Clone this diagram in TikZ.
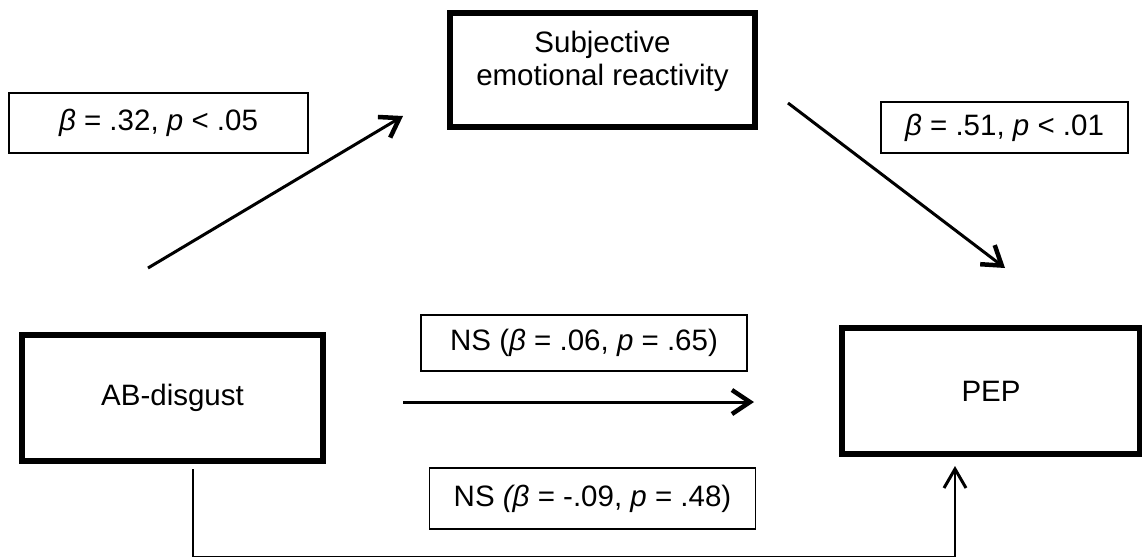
\documentclass[tikz,border=0pt]{standalone}
\usepackage{fontspec}
\setmainfont{Liberation Sans}
\usetikzlibrary{arrows.meta}
\begin{document}
\begin{tikzpicture}[x=1pt,y=-1pt,
  every node/.style={font=\fontsize{29.5}{33}\selectfont},
  mainbox/.style={draw, line width=6pt, fill=white, inner sep=0pt, align=center},
  labelbox/.style={draw, line width=1.6pt, fill=white, inner sep=0pt},
  pathline/.style={line width=3pt, -{Straight Barb[length=18pt,width=24pt,line width=4.5pt]}},
  retline/.style={line width=1.8pt, -{Straight Barb[length=19pt,width=22pt,line width=3pt]}}]
\fill[white] (0,0) rectangle (1142,558);
\useasboundingbox (0,0) rectangle (1142,558);

% main boxes
\node[mainbox, minimum width=305pt, minimum height=114pt] (S) at (602.5,69.5)
  {\raisebox{7pt}[\height][\depth]{\begin{tabular}{@{}c@{}}Subjective\\emotional reactivity\end{tabular}}};
\node[mainbox, minimum width=301pt, minimum height=126pt] (A) at (172.5,398) {AB-disgust};
\node[mainbox, minimum width=298pt, minimum height=126pt] (P) at (991,391) {PEP};

% label boxes
\node[labelbox, minimum width=299pt, minimum height=60pt] (L1) at (158.5,123) {\textit{β} = .32, \textit{p} < .05};
\node[labelbox, minimum width=247pt, minimum height=51pt] (L2) at (1004.5,127.5) {\textit{β} = .51, \textit{p} < .01};
\node[labelbox, minimum width=326pt, minimum height=56pt] (L3) at (584,343) {NS (\textit{β} = .06, \textit{p} = .65)};
\node[labelbox, minimum width=326pt, minimum height=61pt] (L4) at (592.5,498.5) {NS \textit{(β} = -.09, \textit{p} = .48)};

% connector end points
\coordinate (a1s) at (148,268);
\coordinate (a1e) at (403,116);
\coordinate (a2s) at (788,103);
\coordinate (a2e) at (1005,268);
\coordinate (a3s) at (403,402);
\coordinate (a3e) at (754,402);
\coordinate (r1) at (193,469);
\coordinate (r2) at (193,556.5);
\coordinate (r3) at (955,556.5);
\coordinate (r4) at (955,466);

\draw[pathline] (a1s) -- (a1e);
\draw[pathline] (a2s) -- (a2e);
\draw[pathline] (a3s) -- (a3e);
\draw[retline] (r1) -- (r2) -- (r3) -- (r4);
\end{tikzpicture}
\end{document}
